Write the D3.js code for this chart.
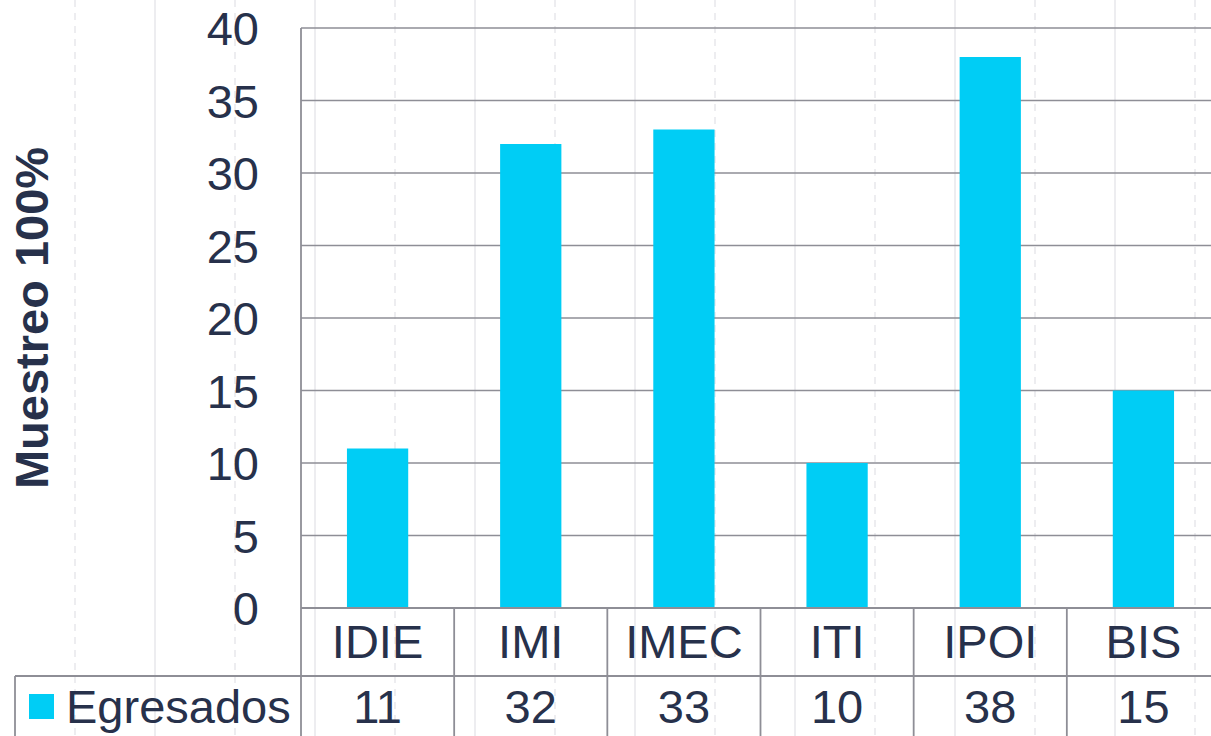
<!DOCTYPE html>
<html>
<head>
<meta charset="utf-8">
<script src="https://cdn.jsdelivr.net/npm/d3@7"></script>
<style>
html,body{margin:0;padding:0;background:#fff;overflow:hidden;}
text{font-family:"Liberation Sans",Arial,sans-serif;fill:#27314b;}
</style>
</head>
<body>
<svg id="chart" width="1211" height="736"></svg>
<script>
const categories = ["IDIE", "IMI", "IMEC", "ITI", "IPOI", "BIS"];
const egresados = [11, 32, 33, 10, 38, 15];
const seriesName = "Egresados";
const yTicks = [0, 5, 10, 15, 20, 25, 30, 35, 40];
const yLabel = "Muestreo 100%";

const svg = d3.select("#chart");
const W = 1211, H = 736;
const pLeft = 301, pRight = 1220, pTop = 28, pBottom = 608;
const row1 = 676;
const barColor = "#00cdf5";
const lineColor = "#8e8e96";
const fs = 47;

// faint background decoration lines
const bg = svg.append("g");
d3.range(75, W, 80).forEach((xx, i) => {
  bg.append("line")
    .attr("x1", xx).attr("x2", xx).attr("y1", 0).attr("y2", H)
    .attr("stroke", "#ededf0").attr("stroke-width", 2)
    .attr("stroke-dasharray", i % 2 === 0 ? "7,6" : null);
});

const x = d3.scaleBand().domain(categories).range([pLeft, pRight]).padding(0);
const y = d3.scaleLinear().domain([0, 40]).range([pBottom, pTop]);

// gridlines
svg.append("g").selectAll("line").data(yTicks).join("line")
  .attr("x1", pLeft).attr("x2", pRight)
  .attr("y1", d => y(d)).attr("y2", d => y(d))
  .attr("stroke", lineColor).attr("stroke-width", 1.6);

// bars
const bw = x.bandwidth() * 0.4;
svg.append("g").selectAll("rect").data(egresados).join("rect")
  .attr("x", (d, i) => x(categories[i]) + x.bandwidth() / 2 - bw / 2)
  .attr("width", bw)
  .attr("y", d => y(d))
  .attr("height", d => y(0) - y(d))
  .attr("fill", barColor);

// y axis tick labels
svg.append("g").selectAll("text").data(yTicks).join("text")
  .attr("x", 259).attr("y", d => y(d) + 17)
  .attr("text-anchor", "end")
  .attr("font-size", fs)
  .text(d => d);

// y axis label
svg.append("text")
  .attr("transform", "translate(48,318) rotate(-90)")
  .attr("text-anchor", "middle")
  .attr("font-size", fs)
  .attr("font-weight", "bold")
  .text(yLabel);

// data table lines
const tl = svg.append("g").attr("stroke", lineColor).attr("stroke-width", 1.8);
tl.append("line").attr("x1", pLeft).attr("x2", pLeft).attr("y1", pTop).attr("y2", H);
tl.append("line").attr("x1", pLeft).attr("x2", pRight).attr("y1", pBottom).attr("y2", pBottom);
tl.append("line").attr("x1", 15).attr("x2", pRight).attr("y1", row1).attr("y2", row1);
tl.append("line").attr("x1", 15).attr("x2", 15).attr("y1", row1).attr("y2", H);
categories.forEach(c => {
  const xr = x(c) + x.bandwidth();
  tl.append("line").attr("x1", xr).attr("x2", xr).attr("y1", pBottom).attr("y2", H);
});

// category labels
svg.append("g").selectAll("text").data(categories).join("text")
  .attr("x", d => x(d) + x.bandwidth() / 2)
  .attr("y", 658)
  .attr("text-anchor", "middle")
  .attr("font-size", fs)
  .text(d => d);

// values row
svg.append("g").selectAll("text").data(egresados).join("text")
  .attr("x", (d, i) => x(categories[i]) + x.bandwidth() / 2)
  .attr("y", 723)
  .attr("text-anchor", "middle")
  .attr("font-size", fs)
  .text(d => d);

// legend key in table
svg.append("rect").attr("x", 29).attr("y", 694).attr("width", 25).attr("height", 25).attr("fill", barColor);
svg.append("text").attr("x", 66).attr("y", 723).attr("font-size", fs).text(seriesName);
</script>
</body>
</html>
